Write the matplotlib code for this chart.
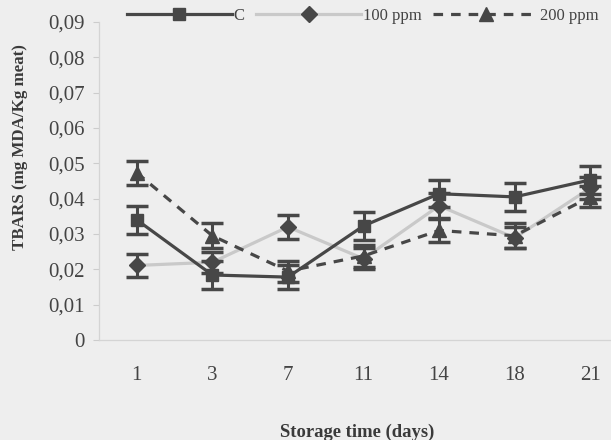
import matplotlib.pyplot as plt
from matplotlib.lines import Line2D

# === Datos ===
days = ["1", "3", "7", "11", "14", "18", "21"]
tbars_c = [0.0340, 0.0184, 0.0178, 0.0323, 0.0414, 0.0405, 0.0453]
err_c = [0.0040, 0.0040, 0.0035, 0.0040, 0.0038, 0.0040, 0.0040]
tbars_100 = [0.0211, 0.0220, 0.0320, 0.0230, 0.0380, 0.0289, 0.0430]
err_100 = [0.0033, 0.0030, 0.0033, 0.0030, 0.0035, 0.0030, 0.0030]
tbars_200 = [0.0473, 0.0295, 0.0195, 0.0238, 0.0310, 0.0295, 0.0405]
err_200 = [0.0033, 0.0035, 0.0030, 0.0030, 0.0033, 0.0035, 0.0030]

DARK = "#474747"
LIGHT = "#c9c9c9"
BG = "#eeeeee"
DASH = (0, (3, 2.5))

plt.rcParams["font.family"] = ["Liberation Serif", "DejaVu Serif"]

fig = plt.figure(figsize=(6.11, 4.40), dpi=100, facecolor=BG)
ax = fig.add_axes([99 / 611, 100 / 440, 529 / 611, 318 / 440], facecolor=BG)

x = list(range(len(days)))
eb = dict(ecolor=DARK, elinewidth=2.2, capsize=8, capthick=2.5)

# 100 ppm: linea clara, marcadores y barras oscuras
ax.plot(x, tbars_100, color=LIGHT, lw=2.3, zorder=2)
ax.errorbar(x, tbars_100, yerr=err_100, fmt="D", color=DARK, ms=8, zorder=3, **eb)

# 200 ppm: discontinua
ax.plot(x, tbars_200, color=DARK, lw=2.3, ls=DASH, zorder=2)
ax.errorbar(x, tbars_200, yerr=err_200, fmt="^", color=DARK, ms=9.5, zorder=3, **eb)

# Control
ax.errorbar(x, tbars_c, yerr=err_c, fmt="s-", color=DARK, lw=2.3, ms=9,
            zorder=4, **eb)

ax.set_xlim(-0.5, len(days) - 0.5)
ax.set_ylim(0, 0.09)
ax.set_xticks(x)
ax.set_xticklabels(days)
yt = [i / 100 for i in range(10)]
ax.set_yticks(yt)
ax.set_yticklabels(["0"] + [f"0,0{i}" for i in range(1, 10)])

ax.tick_params(axis="x", length=0, pad=19, labelsize=15, labelcolor="#444444")
ax.tick_params(axis="y", length=4, width=0.8, color="#cccccc", pad=6,
               labelsize=15, labelcolor="#444444")
for s in ["top", "right"]:
    ax.spines[s].set_visible(False)
for s in ["left", "bottom"]:
    ax.spines[s].set_color("#d4d4d4")
    ax.spines[s].set_linewidth(0.9)

fig.text(20 / 611, 1 - 147 / 440, "TBARS (mg MDA/Kg meat)", fontsize=12.2,
         fontweight="bold", color="#3a3a3a", rotation=90, ha="center", va="center")
fig.text(357 / 611, 1 - 432 / 440, "Storage time (days)", fontsize=13.4,
         fontweight="bold", color="#3a3a3a", ha="center", va="center")

handles = [
    Line2D([0], [0], color=DARK, lw=2.3, marker="s", ms=9),
    Line2D([0], [0], color=LIGHT, lw=2.3, marker="D", ms=8,
           markerfacecolor=DARK, markeredgecolor=DARK),
    Line2D([0], [0], color=DARK, lw=2.3, ls=DASH, marker="^", ms=9.5),
]
fig.legend(handles, ["C", "100 ppm", "200 ppm"], loc="center left",
           bbox_to_anchor=(127 / 611, 1 - 16 / 440), ncol=3, frameon=False,
           borderpad=0, borderaxespad=0,
           handlelength=6.3, handletextpad=0.1, columnspacing=0.7,
           fontsize=12, labelcolor="#444444", numpoints=1)

plt.savefig("out.png", dpi=100, facecolor=BG)
